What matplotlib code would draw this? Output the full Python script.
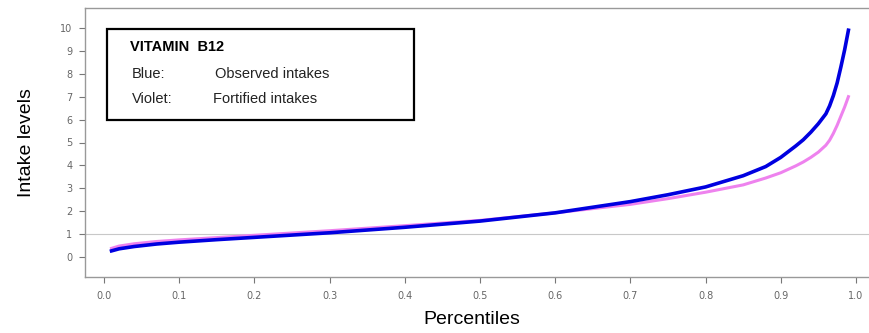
import matplotlib
matplotlib.use("Agg")
import matplotlib.pyplot as plt
from matplotlib.patches import Rectangle

# percentile points
percentiles = [0.01, 0.02, 0.04, 0.07, 0.10, 0.15, 0.20, 0.30, 0.40, 0.50, 0.60,
               0.70, 0.75, 0.80, 0.85, 0.88, 0.90, 0.92, 0.93, 0.94, 0.95, 0.96,
               0.965, 0.97, 0.975, 0.98, 0.985, 0.99]
observed = [0.27, 0.36, 0.46, 0.57, 0.65, 0.76, 0.86, 1.06, 1.30, 1.57, 1.93,
            2.42, 2.72, 3.06, 3.55, 3.95, 4.35, 4.85, 5.12, 5.45, 5.82, 6.25,
            6.60, 7.05, 7.60, 8.30, 9.05, 9.90]
fortified = [0.38, 0.48, 0.58, 0.68, 0.75, 0.85, 0.95, 1.15, 1.37, 1.60, 1.93,
             2.30, 2.55, 2.83, 3.15, 3.45, 3.68, 3.98, 4.15, 4.35, 4.58, 4.88,
             5.10, 5.40, 5.75, 6.15, 6.55, 7.00]
xticks = [0.0, 0.1, 0.2, 0.3, 0.4, 0.5, 0.6, 0.7, 0.8, 0.9, 1.0]
yticks = list(range(0, 11))

fig = plt.figure(figsize=(8.7, 3.33), dpi=100)
ax = fig.add_axes([85 / 870, 1 - 277 / 333, 795 / 870, 269 / 333])

ax.axhline(1, color='#c8c8c8', linewidth=0.8, zorder=1)
ax.plot(percentiles, fortified, color='#ee82ee', linewidth=2.2, zorder=2)
ax.plot(percentiles, observed, color='#0000e0', linewidth=2.6, zorder=3)

ax.set_xlim(-0.0253, 1.032)
ax.set_ylim(-0.87, 10.87)
ax.set_xticks(xticks)
ax.set_xticklabels(["{:.1f}".format(t) for t in xticks])
ax.set_yticks(yticks)
ax.tick_params(axis='both', direction='out', length=4, width=0.8,
               color='#777777', labelcolor='#666666', labelsize=7)
ax.tick_params(axis='x', pad=6)
ax.tick_params(axis='y', pad=5)
for side in ['left', 'top', 'bottom', 'right']:
    ax.spines[side].set_color('#999999')
    ax.spines[side].set_linewidth(1.0)

fam = ['Liberation Sans', 'DejaVu Sans']
ax.set_ylabel("Intake levels", fontsize=14, family=['Liberation Sans Narrow'] + fam)
ax.yaxis.set_label_coords(-0.063, 0.5)
ax.set_xlabel("Percentiles", fontsize=14, family=fam, labelpad=9)
ax.xaxis.set_label_coords(0.487, -0.125)

# legend-like box
box = Rectangle((0.028, 0.585), 0.386, 0.337, transform=ax.transAxes,
                fill=False, edgecolor='black', linewidth=1.6, zorder=4)
ax.add_patch(box)
ax.text(0.057, 0.855, "VITAMIN  B12", transform=ax.transAxes, fontsize=10.5,
        fontweight='bold', family=fam, va='center')
ax.text(0.059, 0.755, "Blue:", transform=ax.transAxes, fontsize=10.5, family=fam,
        va='center', color='#222222')
ax.text(0.163, 0.755, "Observed intakes", transform=ax.transAxes, fontsize=10.5,
        family=fam, va='center', color='#222222')
ax.text(0.059, 0.66, "Violet:", transform=ax.transAxes, fontsize=10.5, family=fam,
        va='center', color='#222222')
ax.text(0.161, 0.66, "Fortified intakes", transform=ax.transAxes, fontsize=10.5,
        family=fam, va='center', color='#222222')

fig.savefig("out.png", dpi=100)
